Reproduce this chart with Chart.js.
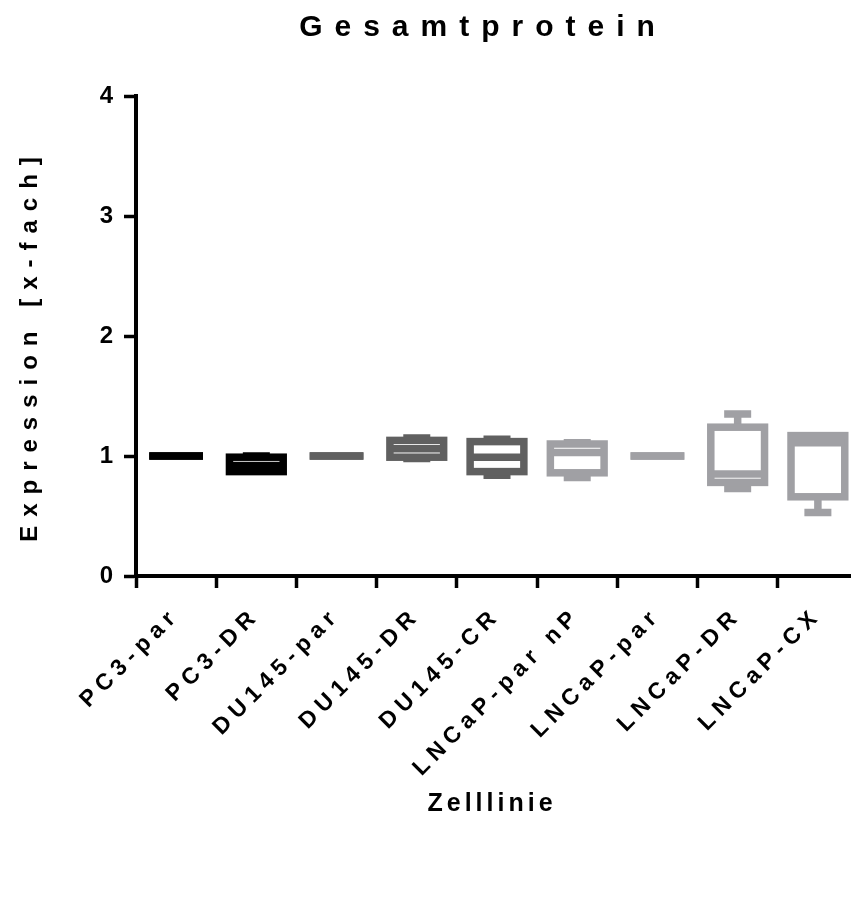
<!DOCTYPE html>
<html>
<head>
<meta charset="utf-8">
<script src="https://cdn.jsdelivr.net/npm/chart.js@4.4.1/dist/chart.umd.min.js"></script>
<style>
html, body { margin: 0; padding: 0; overflow: hidden; background: #ffffff; }
#wrap { width: 851px; height: 905px; overflow: hidden; }
</style>
</head>
<body>
<div id="wrap"><canvas id="gesamtprotein_chart" width="870" height="905"></canvas></div>
<script>
// Box plot values per cell line (x-fach)
var categories = ['PC3-par', 'PC3-DR', 'DU145-par', 'DU145-DR', 'DU145-CR', 'LNCaP-par nP', 'LNCaP-par', 'LNCaP-DR', 'LNCaP-CX'];
var minValues    = [1.00, 0.87, 1.00, 0.98, 0.84, 0.82, 1.00, 0.73, 0.53];
var q1Values     = [1.00, 0.87, 1.00, 0.99, 0.87, 0.86, 1.00, 0.78, 0.66];
var medianValues = [1.00, 0.92, 1.00, 1.06, 0.99, 1.03, 1.00, 0.85, 1.11];
var q3Values     = [1.00, 0.99, 1.00, 1.13, 1.12, 1.10, 1.00, 1.24, 1.17];
var maxValues    = [1.00, 1.00, 1.00, 1.15, 1.14, 1.11, 1.00, 1.35, 1.17];
var yTicks = [0, 1, 2, 3, 4];

var boxColors = ['#000000', '#000000', '#606060', '#606060', '#606060', '#a0a0a4', '#a0a0a4', '#a0a0a4', '#a0a0a4'];
var FONT = '"Liberation Sans", Arial, sans-serif';

// canvas letter spacing (and a small shift) for one drawing method of a scale
function spaceText(scale, method, px, dx, dy) {
    if (scale['_sp_' + method]) return;
    var orig = scale[method];
    scale[method] = function() {
        var c = this.ctx, prev = c.letterSpacing;
        c.save();
        c.translate(dx || 0, dy || 0);
        c.letterSpacing = px + 'px';
        orig.apply(this, arguments);
        c.letterSpacing = prev;
        c.restore();
    };
    scale['_sp_' + method] = true;
}

// draws boxes, medians and whiskers at the positions of the (invisible) floating bars
var boxPlotPlugin = {
    id: 'boxPlot',
    afterDatasetsDraw: function(chart) {
        var ctx = chart.ctx, y = chart.scales.y, meta = chart.getDatasetMeta(0);
        ctx.save();
        ctx.lineWidth = 7.5;
        ctx.lineCap = 'butt';
        ctx.lineJoin = 'miter';
        meta.data.forEach(function(bar, i) {
            var cx = bar.x, half = bar.width / 2, capHalf = 13.5;
            var pMin = y.getPixelForValue(minValues[i]);
            var pQ1 = y.getPixelForValue(q1Values[i]);
            var pMed = y.getPixelForValue(medianValues[i]);
            var pQ3 = y.getPixelForValue(q3Values[i]);
            var pMax = y.getPixelForValue(maxValues[i]);
            ctx.strokeStyle = boxColors[i];

            ctx.beginPath();
            if (maxValues[i] > q3Values[i]) {
                ctx.moveTo(cx, pQ3); ctx.lineTo(cx, pMax);
                ctx.moveTo(cx - capHalf, pMax); ctx.lineTo(cx + capHalf, pMax);
            }
            if (minValues[i] < q1Values[i]) {
                ctx.moveTo(cx, pQ1); ctx.lineTo(cx, pMin);
                ctx.moveTo(cx - capHalf, pMin); ctx.lineTo(cx + capHalf, pMin);
            }
            ctx.stroke();

            ctx.strokeRect(cx - half, pQ3, half * 2, pQ1 - pQ3);

            ctx.beginPath();
            ctx.moveTo(cx - half, pMed); ctx.lineTo(cx + half, pMed);
            ctx.stroke();
        });
        ctx.restore();
    }
};

var titlePlugin = {
    id: 'mainTitle',
    afterDraw: function(chart) {
        var ctx = chart.ctx;
        ctx.save();
        ctx.letterSpacing = '12px';
        ctx.font = 'bold 30px ' + FONT;
        ctx.fillStyle = '#000000';
        ctx.textAlign = 'center';
        ctx.textBaseline = 'middle';
        ctx.fillText('Gesamtprotein', 483, 28);
        ctx.restore();
    }
};

var ctx = document.getElementById('gesamtprotein_chart').getContext('2d');
var boxChart = new Chart(ctx, {
    type: 'bar',
    data: {
        labels: categories,
        datasets: [{
            label: 'Gesamtprotein',
            data: categories.map(function(c, i) { return [q1Values[i], q3Values[i]]; }),
            backgroundColor: 'rgba(0,0,0,0)',
            borderWidth: 0,
            barPercentage: 0.67,
            categoryPercentage: 1
        }]
    },
    options: {
        responsive: false,
        animation: false,
        layout: {
            padding: { top: 96, right: 12, bottom: 0, left: 0 }
        },
        plugins: {
            legend: { display: false },
            title: { display: false },
            tooltip: { enabled: false }
        },
        scales: {
            x: {
                type: 'category',
                offset: true,
                grid: {
                    display: true,
                    drawOnChartArea: false,
                    drawTicks: true,
                    tickLength: 12,
                    tickWidth: 3.5,
                    tickColor: '#000000'
                },
                border: { display: true, width: 4, color: '#000000' },
                ticks: {
                    autoSkip: false,
                    minRotation: 45,
                    maxRotation: 45,
                    padding: 14,
                    color: '#000000',
                    font: { family: FONT, size: 23, weight: 'bold' }
                },
                title: {
                    display: true,
                    text: 'Zelllinie',
                    color: '#000000',
                    font: { family: FONT, size: 25, weight: 'bold' },
                    padding: { top: 0, bottom: 86 }
                },
                afterFit: function(scale) {
                    scale.height = 329;
                    spaceText(scale, 'drawLabels', 6, 0, 0);
                    spaceText(scale, 'drawTitle', 4, -5, 0);
                }
            },
            y: {
                min: 0,
                max: 4,
                afterBuildTicks: function(scale) {
                    scale.ticks = yTicks.map(function(v) { return { value: v }; });
                },
                grid: {
                    display: true,
                    drawOnChartArea: false,
                    drawTicks: true,
                    tickLength: 12,
                    tickWidth: 3.5,
                    tickColor: '#000000'
                },
                border: { display: true, width: 4, color: '#000000' },
                ticks: {
                    padding: 11,
                    color: '#000000',
                    font: { family: FONT, size: 24, weight: 'bold' }
                },
                title: {
                    display: true,
                    text: 'Expression [x-fach]',
                    color: '#000000',
                    font: { family: FONT, size: 24, weight: 'bold' },
                    padding: { top: 16, bottom: 0 }
                },
                afterFit: function(scale) {
                    scale.width = 136;
                    spaceText(scale, 'drawTitle', 9, 0, 9);
                }
            }
        }
    },
    plugins: [boxPlotPlugin, titlePlugin]
});
</script>
</body>
</html>
